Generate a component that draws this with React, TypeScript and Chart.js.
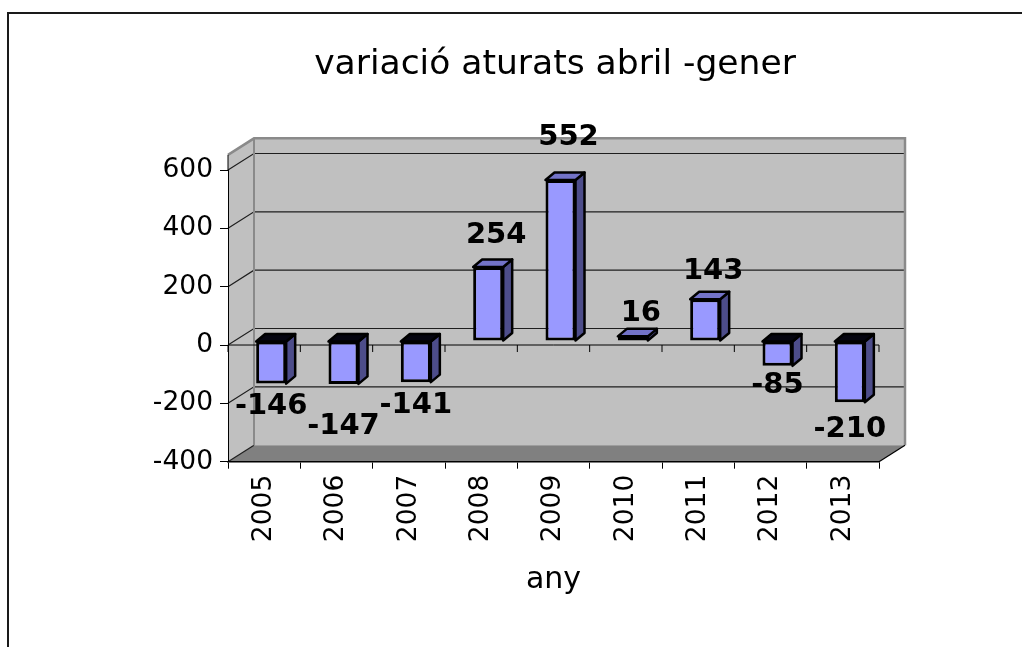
import React, { useEffect, useRef } from 'react';
import { Chart, registerables } from 'chart.js';

Chart.register(...registerables);

// ---- data ----
const categories = ['2005', '2006', '2007', '2008', '2009', '2010', '2011', '2012', '2013'];
const values = [-146, -147, -141, 254, 552, 16, 143, -85, -210];
const yTicks = [-400, -200, 0, 200, 400, 600];
const titleText = 'variació aturats abril -gener';
const xTitleText = 'any';

// ---- layout / style constants ----
const Y_MIN = -400;
const Y_MAX = 600;
const WALL_TOP = 652;
const FONT = "'DejaVu Sans', Verdana, sans-serif";
const CW = 1096;
const CH = 700;
const WALL_DX = 26;
const WALL_DY = -16.5;
const BAR_SHIFT_X = 7;
const BAR_SHIFT_Y = -4;
const BAR_DX = 9;
const BAR_DY = -7.5;

function poly(ctx: CanvasRenderingContext2D, pts: number[][]) {
  ctx.beginPath();
  ctx.moveTo(pts[0][0], pts[0][1]);
  for (let i = 1; i < pts.length; i++) ctx.lineTo(pts[i][0], pts[i][1]);
  ctx.closePath();
}

const threeD = {
  id: 'threeD',
  beforeDraw(chart: any) {
    const { ctx, chartArea: a, scales } = chart;
    const y = scales.y;
    const x = scales.x;
    const yTop = y.getPixelForValue(WALL_TOP);
    const yBot = y.getPixelForValue(Y_MIN);
    ctx.save();
    // left wall
    ctx.fillStyle = '#c0c0c0';
    poly(ctx, [
      [a.left, yTop],
      [a.left + WALL_DX, yTop + WALL_DY],
      [a.left + WALL_DX, yBot + WALL_DY],
      [a.left, yBot],
    ]);
    ctx.fill();
    // back wall
    ctx.fillRect(a.left + WALL_DX, yTop + WALL_DY, a.right - a.left, yBot - yTop);
    // floor
    ctx.fillStyle = '#808080';
    poly(ctx, [
      [a.left, yBot],
      [a.right, yBot],
      [a.right + WALL_DX, yBot + WALL_DY],
      [a.left + WALL_DX, yBot + WALL_DY],
    ]);
    ctx.fill();
    // gridlines on back wall + left wall
    ctx.strokeStyle = '#1e1e1e';
    ctx.lineWidth = 1.2;
    for (const v of yTicks) {
      const yy = y.getPixelForValue(v);
      ctx.beginPath();
      ctx.moveTo(a.left, yy);
      ctx.lineTo(a.left + WALL_DX, yy + WALL_DY);
      if (v > Y_MIN) ctx.lineTo(a.right + WALL_DX, yy + WALL_DY);
      ctx.stroke();
    }
    // wall edges
    ctx.strokeStyle = '#8a8a8a';
    ctx.lineWidth = 2.5;
    ctx.beginPath();
    ctx.moveTo(a.left, yTop);
    ctx.lineTo(a.left + WALL_DX, yTop + WALL_DY);
    ctx.lineTo(a.right + WALL_DX, yTop + WALL_DY);
    ctx.lineTo(a.right + WALL_DX, yBot + WALL_DY);
    ctx.stroke();
    ctx.lineWidth = 2;
    ctx.beginPath();
    ctx.moveTo(a.left + WALL_DX, yTop + WALL_DY);
    ctx.lineTo(a.left + WALL_DX, yBot + WALL_DY);
    ctx.stroke();
    // front edge extension and floor right edge
    ctx.strokeStyle = '#000';
    ctx.lineWidth = 1;
    ctx.beginPath();
    ctx.moveTo(a.left, yTop);
    ctx.lineTo(a.left, a.top);
    ctx.stroke();
    ctx.lineWidth = 1.2;
    ctx.beginPath();
    ctx.moveTo(a.right, yBot);
    ctx.lineTo(a.right + WALL_DX, yBot + WALL_DY);
    ctx.stroke();
    // zero line on the front plane with category ticks
    const y0 = y.getPixelForValue(0);
    ctx.lineWidth = 1;
    ctx.beginPath();
    ctx.moveTo(a.left, y0);
    ctx.lineTo(a.right, y0);
    for (let i = 0; i <= categories.length; i++) {
      const px = x.getPixelForValue(i - 0.5);
      ctx.moveTo(px, y0);
      ctx.lineTo(px, y0 + 7);
    }
    ctx.stroke();
    ctx.restore();
  },
  beforeDatasetsDraw(chart: any) {
    const { ctx } = chart;
    ctx.save();
    ctx.translate(BAR_SHIFT_X, BAR_SHIFT_Y);
    const meta = chart.getDatasetMeta(0);
    meta.data.forEach((el: any, i: number) => {
      const p = el.getProps(['x', 'y', 'base', 'width'], true);
      const l = p.x - p.width / 2;
      const r = p.x + p.width / 2;
      const t = Math.min(p.y, p.base);
      const b = Math.max(p.y, p.base);
      ctx.lineWidth = 2.5;
      ctx.lineJoin = 'round';
      ctx.strokeStyle = '#000';
      // side face
      ctx.fillStyle = '#4d4d8a';
      poly(ctx, [[r, t], [r + BAR_DX, t + BAR_DY], [r + BAR_DX, b + BAR_DY], [r, b]]);
      ctx.fill();
      ctx.stroke();
      // top face
      ctx.fillStyle = values[i] >= 0 ? '#7373c8' : '#050510';
      poly(ctx, [[l, t], [l + BAR_DX, t + BAR_DY], [r + BAR_DX, t + BAR_DY], [r, t]]);
      ctx.fill();
      ctx.stroke();
    });
  },
  afterDatasetsDraw(chart: any) {
    const { ctx } = chart;
    ctx.restore();
    const meta = chart.getDatasetMeta(0);
    ctx.save();
    ctx.font = `bold 29px ${FONT}`;
    ctx.fillStyle = '#000';
    ctx.textAlign = 'center';
    ctx.textBaseline = 'middle';
    const placed: { l: number; r: number; t: number; b: number }[] = [];
    const halfH = 9;
    meta.data.forEach((el: any, i: number) => {
      const p = el.getProps(['x', 'y', 'base', 'width'], true);
      const v = values[i];
      const txt = String(v);
      const h = Math.abs(p.base - p.y);
      let cx = p.x + BAR_SHIFT_X;
      let cy;
      const dir = v >= 0 ? -1 : 1;
      if (v >= 0) {
        cx += 8;
        cy = p.y + BAR_SHIFT_Y - (22 + 0.13 * h);
      } else {
        cy = p.y + BAR_SHIFT_Y + 14 + 0.22 * h;
      }
      const w = ctx.measureText(txt).width;
      for (let k = 0; k < 3; k++) {
        const box = { l: cx - w / 2, r: cx + w / 2, t: cy - halfH, b: cy + halfH };
        const hit = placed.some(
          (q) => box.l < q.r + 4 && q.l < box.r + 4 && box.t < q.b && q.t < box.b
        );
        if (!hit) break;
        cy += dir * 19;
      }
      placed.push({ l: cx - w / 2, r: cx + w / 2, t: cy - halfH, b: cy + halfH });
      ctx.fillText(txt, cx, cy);
    });
    ctx.restore();
  },
  afterDraw(chart: any) {
    const { ctx } = chart;
    ctx.save();
    ctx.strokeStyle = '#1a1a1a';
    ctx.lineWidth = 2;
    ctx.strokeRect(1, 1, CW + 10, CH + 10);
    ctx.restore();
  },
};

export default function App() {
  const ref = useRef<HTMLCanvasElement>(null);
  useEffect(() => {
    const chart = new Chart(ref.current as HTMLCanvasElement, {
      type: 'bar',
      data: {
        labels: categories,
        datasets: [
          {
            data: values,
            backgroundColor: '#9999ff',
            borderColor: '#000',
            borderWidth: 3,
            borderSkipped: false,
            barPercentage: 0.415,
            categoryPercentage: 1,
            clip: false,
          } as any,
        ],
      },
      options: {
        responsive: false,
        animation: false,
        layout: { padding: 0 },
        plugins: {
          legend: { display: false },
          tooltip: { enabled: false },
          title: {
            display: true,
            text: titleText,
            color: '#000',
            font: { family: FONT, size: 34.5, weight: 'normal' },
            padding: { top: 32.3, bottom: 84.3 },
          },
        },
        scales: {
          x: {
            type: 'category',
            ticks: {
              color: '#000',
              font: { family: FONT, size: 26.5 },
              minRotation: 90,
              maxRotation: 90,
              autoSkip: false,
              padding: 6,
            },
            grid: { offset: true, drawOnChartArea: false, tickLength: 7, color: '#000', lineWidth: 1 },
            border: { color: '#000', width: 1.5 },
            title: {
              display: true,
              text: xTitleText,
              color: '#000',
              font: { family: FONT, size: 30 },
              padding: { top: 0, bottom: 114 },
            },
            afterFit: (s: any) => {
              s.height = CH - 449.7;
            },
          },
          y: {
            type: 'linear',
            min: Y_MIN,
            max: Y_MAX,
            afterBuildTicks: (s: any) => {
              s.ticks = yTicks.map((v) => ({ value: v }));
            },
            ticks: {
              color: '#000',
              font: { family: FONT, size: 26.5 },
              padding: 7,
              callback: (v: any) => String(v),
            },
            grid: { drawOnChartArea: false, tickLength: 8, color: '#000', lineWidth: 1 },
            border: { color: '#000', width: 1 },
            afterFit: (s: any) => {
              s.width = 221;
            },
          },
          y2: {
            type: 'linear',
            position: 'right',
            display: true,
            grid: { display: false },
            ticks: { display: false },
            border: { display: false },
            afterFit: (s: any) => {
              s.width = 224;
            },
          },
        },
      } as any,
      plugins: [threeD],
    });
    return () => chart.destroy();
  }, []);
  return (
    <div
      style={{
        position: 'fixed',
        left: 0,
        top: 0,
        width: 1022,
        height: 647,
        overflow: 'hidden',
        background: '#fff',
      }}
    >
      <canvas
        ref={ref}
        width={CW}
        height={CH}
        style={{ position: 'absolute', left: 7, top: 12, width: CW, height: CH }}
      />
    </div>
  );
}
